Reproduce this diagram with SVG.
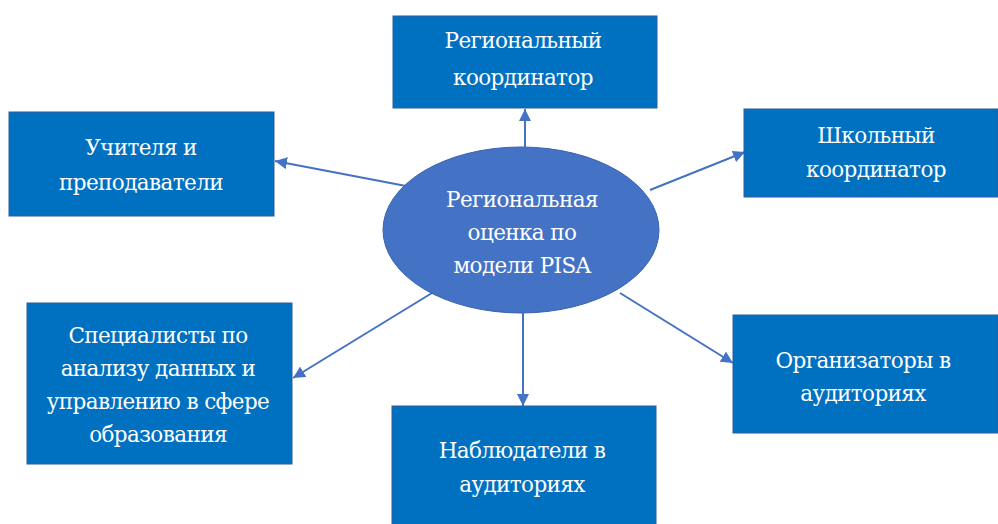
<svg xmlns="http://www.w3.org/2000/svg" width="998" height="524" viewBox="0 0 998 524">
<defs>
<marker id="arr" viewBox="0 0 10 10" refX="10" refY="5" markerWidth="6" markerHeight="6" orient="auto" markerUnits="strokeWidth">
<path d="M0,0 L10,5 L0,10 z" fill="#4472C4"/>
</marker>
</defs>
<style>
.box{fill:#0070C0;stroke:#2E5C9A;stroke-width:1}
.ell{fill:#4472C4;stroke:#3A64B0;stroke-width:1}
.t{font-family:"DejaVu Serif","Liberation Serif",serif;font-size:21.5px;letter-spacing:-0.6px;fill:#FFFFFF;text-anchor:middle}
.c{stroke:#4472C4;stroke-width:2;fill:none;marker-end:url(#arr)}
</style>
<rect width="998" height="524" fill="#FFFFFF"/>
<g id="connectors">
<line class="c" x1="525" y1="147" x2="525" y2="109"/>
<line class="c" x1="406" y1="186" x2="275" y2="161"/>
<line class="c" x1="650" y1="190" x2="745" y2="152"/>
<line class="c" x1="432" y1="293" x2="293" y2="378"/>
<line class="c" x1="620" y1="293" x2="733" y2="363"/>
<line class="c" x1="523" y1="313" x2="523" y2="406"/>
</g>
<g id="center">
<ellipse class="ell" cx="521" cy="230" rx="138" ry="83"/>
<text class="t" x="522" y="207">Региональная</text>
<text class="t" x="522" y="240">оценка по</text>
<text class="t" x="522" y="273">модели PISA</text>
</g>
<g id="regional">
<rect class="box" x="393" y="16" width="264" height="92"/>
<text class="t" x="523" y="48">Региональный</text>
<text class="t" x="523" y="85">координатор</text>
</g>
<g id="teachers">
<rect class="box" x="9" y="112" width="265" height="104"/>
<text class="t" x="141" y="155">Учителя и</text>
<text class="t" x="141" y="190">преподаватели</text>
</g>
<g id="school">
<rect class="box" x="744" y="109" width="254" height="88"/>
<text class="t" x="876" y="143">Школьный</text>
<text class="t" x="876" y="177">координатор</text>
</g>
<g id="specialists">
<rect class="box" x="27" y="303" width="265" height="161"/>
<text class="t" x="158" y="343">Специалисты по</text>
<text class="t" x="158" y="376">анализу данных и</text>
<text class="t" x="158" y="409">управлению в сфере</text>
<text class="t" x="158" y="442">образования</text>
</g>
<g id="organizers">
<rect class="box" x="733" y="315" width="265" height="118"/>
<text class="t" x="863" y="368">Организаторы в</text>
<text class="t" x="863" y="401">аудиториях</text>
</g>
<g id="observers">
<rect class="box" x="392" y="406" width="264" height="124"/>
<text class="t" x="522" y="458">Наблюдатели в</text>
<text class="t" x="522" y="492">аудиториях</text>
</g>
</svg>
